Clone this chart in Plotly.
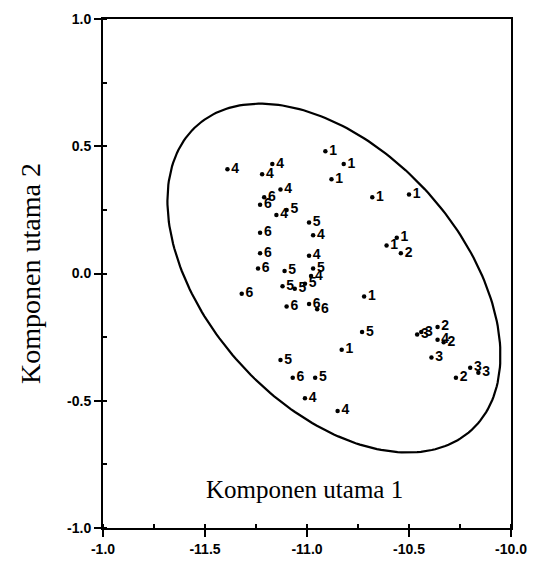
import numpy as np
import plotly.graph_objects as go

# ---- data ----
g1_x = [-10.91, -10.82, -10.88, -10.68, -10.50, -10.56, -10.61, -10.72, -10.83]
g1_y = [0.48, 0.43, 0.37, 0.30, 0.31, 0.14, 0.11, -0.09, -0.30]

g2_x = [-10.54, -10.36, -10.33, -10.27]
g2_y = [0.08, -0.21, -0.27, -0.41]

g3_x = [-10.46, -10.44, -10.39, -10.20, -10.16]
g3_y = [-0.24, -0.23, -0.33, -0.37, -0.39]

g4_x = [-11.39, -11.22, -11.17, -11.13, -11.15, -10.97, -10.99, -10.98, -10.36, -11.01, -10.85]
g4_y = [0.41, 0.39, 0.43, 0.33, 0.23, 0.15, 0.07, -0.01, -0.26, -0.49, -0.54]

g5_x = [-11.10, -10.99, -11.11, -10.97, -11.12, -11.06, -11.01, -10.73, -11.13, -10.96]
g5_y = [0.25, 0.20, 0.01, 0.02, -0.05, -0.06, -0.04, -0.23, -0.34, -0.41]

g6_x = [-11.21, -11.23, -11.23, -11.23, -11.24, -11.32, -11.10, -10.99, -10.95, -11.07]
g6_y = [0.30, 0.27, 0.16, 0.08, 0.02, -0.08, -0.13, -0.12, -0.14, -0.41]

group_labels = ["1", "2", "3", "4", "5", "6"]

x_tickvals = [-12.0, -11.5, -11.0, -10.5, -10.0]
x_ticktext = ["-1.0", "-11.5", "-11.0", "-10.5", "-10.0"]
y_tickvals = [1.0, 0.5, 0.0, -0.5, -1.0]
y_ticktext = ["1.0", "0.5", "0.0", "-0.5", "-1.0"]

# confidence ellipse: centre and two semi-axis vectors (data units)
ell_center = (-10.868, -0.018)
ell_u = (0.6725, -0.5985)
ell_v = (0.4626, 0.334)

x_title = "Komponen utama 1"
y_title = "Komponen utama 2"

# ---- figure ----
fig = go.Figure()

t = np.linspace(0, 2 * np.pi, 241)
ex = ell_center[0] + ell_u[0] * np.cos(t) + ell_v[0] * np.sin(t)
ey = ell_center[1] + ell_u[1] * np.cos(t) + ell_v[1] * np.sin(t)
fig.add_trace(go.Scatter(x=ex, y=ey, mode="lines",
                         line=dict(color="black", width=2.2),
                         hoverinfo="skip", showlegend=False))

groups = [(g1_x, g1_y), (g2_x, g2_y), (g3_x, g3_y),
          (g4_x, g4_y), (g5_x, g5_y), (g6_x, g6_y)]
for lab, (gx, gy) in zip(group_labels, groups):
    fig.add_trace(go.Scatter(
        x=gx, y=gy, mode="markers+text",
        text=[lab] * len(gx), textposition="middle right",
        textfont=dict(family="Liberation Sans", size=14, color="black", weight="bold"),
        marker=dict(color="black", size=4.5),
        showlegend=False, name=lab))

axis_common = dict(
    showline=True, linewidth=2, linecolor="black", mirror=True,
    ticks="outside", ticklen=7, tickwidth=2, tickcolor="black",
    showgrid=False, zeroline=False, automargin=False,
    tickfont=dict(family="Liberation Sans", size=14, color="black", weight="bold"),
    minor=dict(ticks="inside", ticklen=4, tickwidth=1.5, tickcolor="black", dtick=0.25),
)

fig.update_xaxes(range=[-12, -10], tickmode="array", tickvals=x_tickvals,
                 ticktext=x_ticktext, **axis_common)
fig.update_yaxes(range=[-1, 1], tickmode="array", tickvals=y_tickvals,
                 ticktext=y_ticktext, **axis_common)

fig.add_annotation(text=x_title, xref="paper", yref="paper", x=0.495, y=0.075,
                   showarrow=False, xanchor="center", yanchor="middle",
                   font=dict(family="Liberation Serif", size=25, color="black"))
fig.add_annotation(text=y_title, xref="paper", yref="paper", x=-0.178, y=0.5,
                   showarrow=False, xanchor="center", yanchor="middle", textangle=-90,
                   font=dict(family="Liberation Serif", size=28, color="black"))

fig.update_layout(width=537, height=567,
                  margin=dict(l=95, r=34, t=11, b=47, autoexpand=False),
                  paper_bgcolor="white", plot_bgcolor="white")

fig.write_html("out.html")
